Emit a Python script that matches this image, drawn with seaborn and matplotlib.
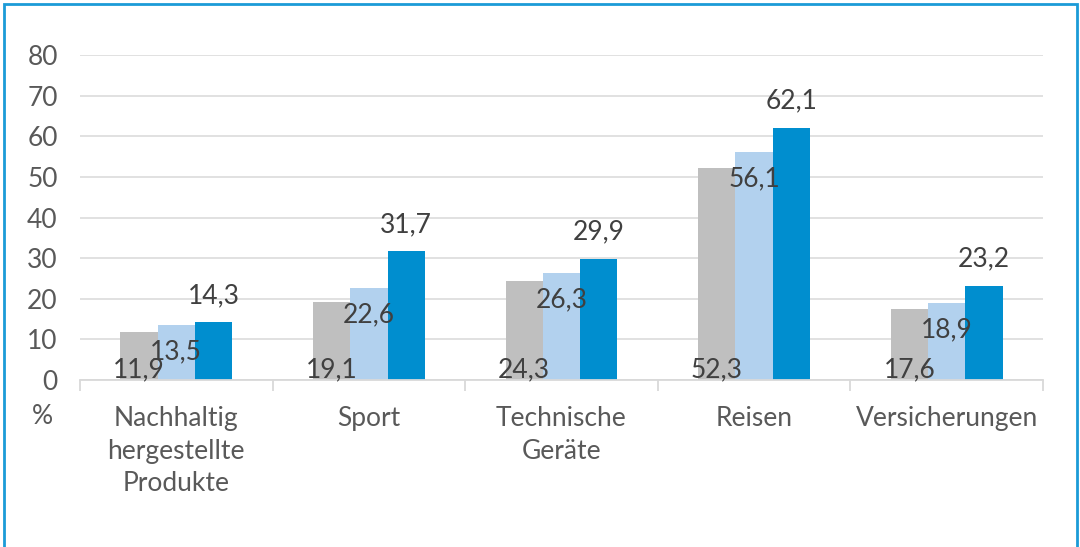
import pandas as pd
import seaborn as sns
import matplotlib.pyplot as plt
from matplotlib.patches import Rectangle

categories = ["Nachhaltig\nhergestellte\nProdukte", "Sport", "Technische\nGeräte", "Reisen", "Versicherungen"]
series = ["A", "B", "C"]
values_a = [11.9, 19.1, 24.3, 52.3, 17.6]
values_b = [13.5, 22.6, 26.3, 56.1, 18.9]
values_c = [14.3, 31.7, 29.9, 62.1, 23.2]
yticks = [0, 10, 20, 30, 40, 50, 60, 70, 80]

colors = ["#bfbfbf", "#b2d1ee", "#008ecf"]
text_col = "#595959"
fs = 19

df = pd.DataFrame({
    "category": categories * 3,
    "series": [s for s in series for _ in categories],
    "value": values_a + values_b + values_c,
})

sns.set_theme(style="white")
plt.rcParams["font.family"] = ["Lato", "DejaVu Sans"]

fig = plt.figure(figsize=(10.8, 5.47), dpi=100)
ax = fig.add_axes([80 / 1080, 1 - 380 / 547, (1043 - 80) / 1080, (380 - 55) / 547])

sns.barplot(data=df, x="category", y="value", hue="series", order=categories,
            hue_order=series, palette=colors, width=0.58, gap=0,
            saturation=1, legend=False, ax=ax, linewidth=0)

ax.set_ylim(0, 80)
ax.set_xlim(-0.5, len(categories) - 0.5)
ax.set_yticks(yticks)
ax.set_yticklabels([str(t) for t in yticks])
ax.yaxis.grid(True, color="#d9d9d9", linewidth=1.1)
ax.set_axisbelow(True)
for side in ["top", "right", "left"]:
    ax.spines[side].set_visible(False)
ax.spines["bottom"].set_color("#d9d9d9")
ax.spines["bottom"].set_linewidth(1.3)
ax.set_xlabel("")
ax.set_ylabel("")

ax.set_xticks([i - 0.5 for i in range(len(categories) + 1)], minor=True)
ax.tick_params(axis="x", which="minor", length=8, width=1.3, color="#d9d9d9", bottom=True)
ax.tick_params(axis="x", which="major", length=0, pad=19, labelsize=fs, labelcolor=text_col)
ax.tick_params(axis="y", length=0, pad=16, labelsize=fs, labelcolor=text_col)
for lbl in ax.get_xticklabels():
    lbl.set_linespacing(1.36)

# data labels: first series at base, second inside top, third above bar
label_col = "#404040"
for i, cont in enumerate(ax.containers):
    for bar in cont:
        h = bar.get_height()
        x = bar.get_x() + bar.get_width() / 2
        txt = f"{h:.1f}".replace(".", ",")
        if i == 0:
            y, dy = 0, 3
        elif i == 1:
            y, dy = h, -34
        else:
            y, dy = h, 19
        ax.annotate(txt, (x, y), xytext=(0, dy), textcoords="offset pixels",
                    ha="center", va="baseline", fontsize=fs, color=label_col)

fig.text(42 / 1080, 1 - 417 / 547, "%", ha="center", va="center",
         fontsize=fs, color=text_col)

fig.patches.append(Rectangle((4 / 1080, -0.02), 1073 / 1080, 0.02 + 1 - 4 / 547,
                             transform=fig.transFigure, fill=False,
                             edgecolor="#1b9bd7", linewidth=2))

fig.savefig("out.png", dpi=100)
